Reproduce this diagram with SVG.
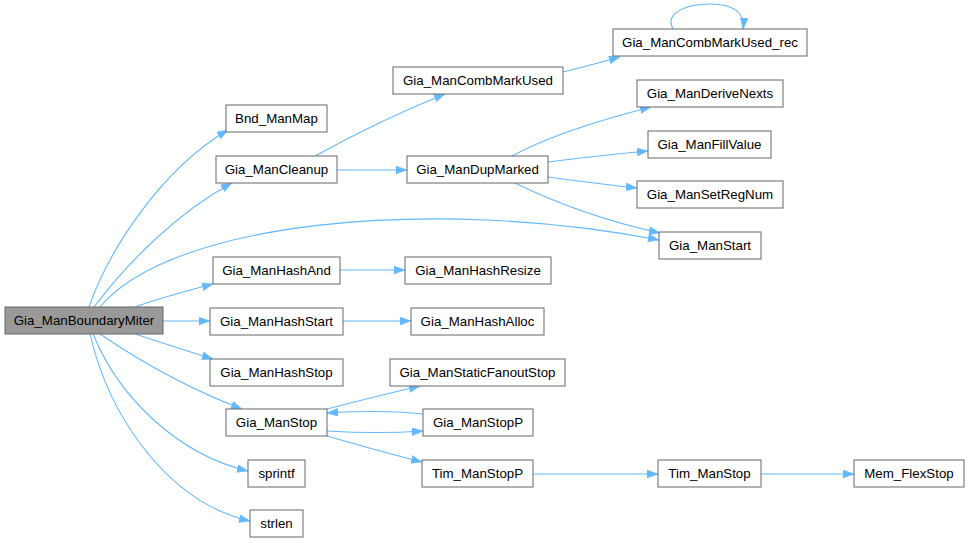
<svg xmlns="http://www.w3.org/2000/svg" width="969" height="543" viewBox="0 0 969 543">
<defs>
<style>
.n rect{fill:#ffffff;stroke:#666666;stroke-width:1}
.n.root rect{fill:#999999}
.n text{font-family:"Liberation Sans",Arial,sans-serif;font-size:13.3px;text-anchor:middle;fill:#000000}
.e path{fill:none;stroke:#63b8ff;stroke-width:1.1;marker-end:url(#ah)}
</style>
<marker id="ah" markerUnits="userSpaceOnUse" markerWidth="12" markerHeight="9" refX="11" refY="4" orient="auto">
<path d="M0,0 L11,4 L0,8 z" fill="#63b8ff" stroke="#63b8ff" stroke-width="0.5"/>
</marker>
</defs>
<rect width="969" height="543" fill="#ffffff"/>
<g id="edges" class="e">
<path d="M89,307 C108,252 160,170 228,130"/>
<path d="M94,307 C128,262 178,212 232,183"/>
<path d="M100,307 C170,222 430,196 659,240"/>
<path d="M135,307 C160,298 186,291 213,284"/>
<path d="M163,321 L210,321"/>
<path d="M135,334 C160,342 186,351 213,359"/>
<path d="M100,334 C150,368 200,393 242,409"/>
<path d="M93,334 C120,400 180,455 248,471"/>
<path d="M90,334 C110,420 170,503 250,521"/>
<path d="M315,156 C355,134 400,112 445,94"/>
<path d="M337,170 L407,170"/>
<path d="M563,72 C580,68 598,63 620,57"/>
<path d="M673,29 C664,12 688,4 710,4 C733,4 745,12 743,29"/>
<path d="M512,156 C545,138 600,120 651,107"/>
<path d="M548,162 C580,158 615,154 648,151"/>
<path d="M548,177 C578,181 608,185 637,188"/>
<path d="M515,183 C560,205 610,222 660,233"/>
<path d="M340,270 L405,270"/>
<path d="M343,321 L411,321"/>
<path d="M327,409 C358,401 390,393 420,386"/>
<path d="M423,414 C395,411 360,411 327,413"/>
<path d="M327,431 C360,433 395,433 423,431"/>
<path d="M327,436 C358,445 390,454 422,462"/>
<path d="M533,474 L658,474"/>
<path d="M761,474 L854,474"/>
</g>
<g id="Gia_ManBoundaryMiter" class="n root"><rect x="5" y="307" width="158" height="27"/><text x="84" y="325">Gia_ManBoundaryMiter</text></g>
<g id="Bnd_ManMap" class="n"><rect x="226" y="105" width="101" height="27"/><text x="276.5" y="123">Bnd_ManMap</text></g>
<g id="Gia_ManCleanup" class="n"><rect x="216" y="156" width="121" height="27"/><text x="276.5" y="174">Gia_ManCleanup</text></g>
<g id="Gia_ManCombMarkUsed" class="n"><rect x="393" y="67" width="170" height="27"/><text x="478" y="85">Gia_ManCombMarkUsed</text></g>
<g id="Gia_ManDupMarked" class="n"><rect x="407" y="156" width="141" height="27"/><text x="477.5" y="174">Gia_ManDupMarked</text></g>
<g id="Gia_ManCombMarkUsed_rec" class="n"><rect x="613" y="29" width="194" height="27"/><text x="710" y="47">Gia_ManCombMarkUsed_rec</text></g>
<g id="Gia_ManDeriveNexts" class="n"><rect x="637" y="80" width="146" height="27"/><text x="710" y="98">Gia_ManDeriveNexts</text></g>
<g id="Gia_ManFillValue" class="n"><rect x="648" y="131" width="123" height="27"/><text x="709.5" y="149">Gia_ManFillValue</text></g>
<g id="Gia_ManSetRegNum" class="n"><rect x="637" y="181" width="146" height="27"/><text x="710" y="199">Gia_ManSetRegNum</text></g>
<g id="Gia_ManStart" class="n"><rect x="659" y="232" width="102" height="27"/><text x="710" y="250">Gia_ManStart</text></g>
<g id="Gia_ManHashAnd" class="n"><rect x="213" y="257" width="127" height="27"/><text x="276.5" y="275">Gia_ManHashAnd</text></g>
<g id="Gia_ManHashResize" class="n"><rect x="405" y="257" width="146" height="27"/><text x="478" y="275">Gia_ManHashResize</text></g>
<g id="Gia_ManHashStart" class="n"><rect x="210" y="308" width="133" height="27"/><text x="276.5" y="326">Gia_ManHashStart</text></g>
<g id="Gia_ManHashAlloc" class="n"><rect x="411" y="308" width="133" height="27"/><text x="477.5" y="326">Gia_ManHashAlloc</text></g>
<g id="Gia_ManHashStop" class="n"><rect x="210" y="359" width="133" height="27"/><text x="276.5" y="377">Gia_ManHashStop</text></g>
<g id="Gia_ManStaticFanoutStop" class="n"><rect x="390" y="359" width="175" height="27"/><text x="477.5" y="377">Gia_ManStaticFanoutStop</text></g>
<g id="Gia_ManStop" class="n"><rect x="226" y="409" width="101" height="27"/><text x="276.5" y="427">Gia_ManStop</text></g>
<g id="Gia_ManStopP" class="n"><rect x="423" y="409" width="110" height="27"/><text x="478" y="427">Gia_ManStopP</text></g>
<g id="sprintf" class="n"><rect x="248" y="460" width="57" height="27"/><text x="276.5" y="478">sprintf</text></g>
<g id="Tim_ManStopP" class="n"><rect x="422" y="460" width="111" height="27"/><text x="477.5" y="478">Tim_ManStopP</text></g>
<g id="strlen" class="n"><rect x="250" y="510" width="53" height="27"/><text x="276.5" y="528">strlen</text></g>
<g id="Tim_ManStop" class="n"><rect x="658" y="460" width="103" height="27"/><text x="709.5" y="478">Tim_ManStop</text></g>
<g id="Mem_FlexStop" class="n"><rect x="854" y="460" width="110" height="27"/><text x="909" y="478">Mem_FlexStop</text></g>
</svg>
